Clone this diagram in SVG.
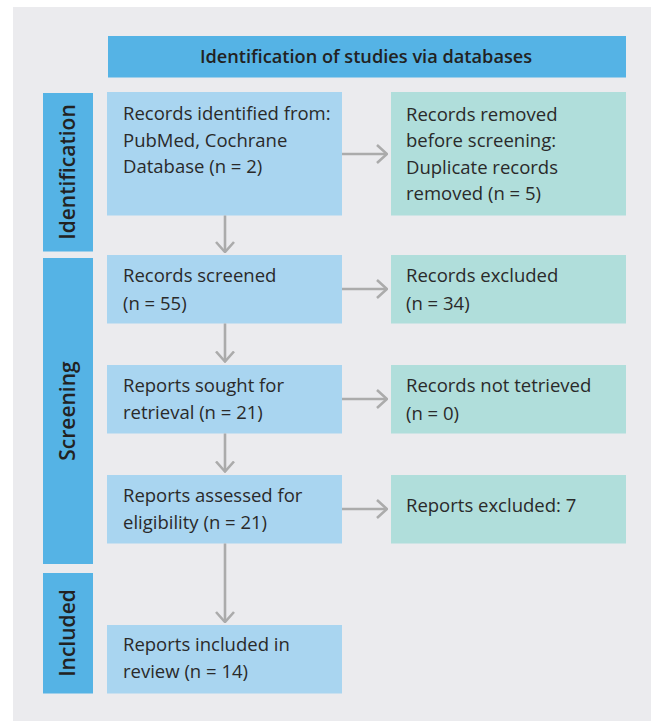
<svg xmlns="http://www.w3.org/2000/svg" width="651" height="721" viewBox="0 0 651 721">
<defs>
<marker id="ah" viewBox="0 0 12 20" refX="11" refY="10" markerWidth="12" markerHeight="20" markerUnits="userSpaceOnUse" orient="auto">
<path d="M1,1 L11,10 L1,19" fill="none" stroke="#ababab" stroke-width="2.6"/>
</marker>
<style>
.bar{fill:#55b3e5}
.blue{fill:#a9d5f0}
.green{fill:#b0dedb}
.t{font-family:"Open Sans","Liberation Sans",sans-serif;font-size:18.5px;fill:#2a2a2a}
.h{font-family:"Open Sans","Liberation Sans",sans-serif;font-size:18.2px;font-weight:600;fill:#222}
.v{font-family:"Open Sans","Liberation Sans",sans-serif;font-size:21px;font-weight:600;fill:#222}
.c{stroke:#ababab;stroke-width:2.6;fill:none}
</style>
</defs>
<rect x="13" y="7" width="638" height="714" fill="#ebebee"/>
<g id="header"><rect class="bar" x="108" y="36" width="518" height="41.5"/><text class="h" x="366" y="63" text-anchor="middle">Identification of studies via databases</text></g>
<g id="lbl-identification"><rect class="bar" x="43" y="93" width="50" height="158.5"/><text class="v" transform="translate(75,172) rotate(-90)" text-anchor="middle">Identification</text></g>
<g id="lbl-screening"><rect class="bar" x="43" y="258" width="50" height="306"/><text class="v" transform="translate(75,411) rotate(-90)" text-anchor="middle">Screening</text></g>
<g id="lbl-included"><rect class="bar" x="43" y="573" width="50" height="120.5"/><text class="v" transform="translate(75,633) rotate(-90)" text-anchor="middle">Included</text></g>
<g id="n1"><rect class="blue" x="107" y="92" width="235" height="123.5"/><text class="t" x="123" y="120">Records identified from:</text><text class="t" x="123" y="146.5">PubMed, Cochrane</text><text class="t" x="123" y="173">Database (n = 2)</text></g>
<g id="n2"><rect class="green" x="391" y="92" width="235" height="123.5"/><text class="t" x="406" y="120.5">Records removed</text><text class="t" x="406" y="147">before screening:</text><text class="t" x="406" y="173.5">Duplicate records</text><text class="t" x="406" y="200">removed (n = 5)</text></g>
<g id="n3"><rect class="blue" x="107" y="255" width="235" height="68.5"/><text class="t" x="123" y="282">Records screened</text><text class="t" x="123" y="309.5">(n = 55)</text></g>
<g id="n4"><rect class="green" x="391" y="255" width="235" height="68.5"/><text class="t" x="406" y="282">Records excluded</text><text class="t" x="406" y="309.5">(n = 34)</text></g>
<g id="n5"><rect class="blue" x="107" y="365" width="235" height="68.5"/><text class="t" x="123" y="392">Reports sought for</text><text class="t" x="123" y="418.5">retrieval (n = 21)</text></g>
<g id="n6"><rect class="green" x="391" y="365" width="235" height="68.5"/><text class="t" x="406" y="392">Records not tetrieved</text><text class="t" x="406" y="419.5">(n = 0)</text></g>
<g id="n7"><rect class="blue" x="107" y="475" width="235" height="68.5"/><text class="t" x="123" y="502">Reports assessed for</text><text class="t" x="123" y="528.5">eligibility (n = 21)</text></g>
<g id="n8"><rect class="green" x="391" y="475" width="235" height="68.5"/><text class="t" x="406" y="512">Reports excluded: 7</text></g>
<g id="n9"><rect class="blue" x="107" y="625" width="235" height="68.5"/><text class="t" x="123" y="651">Reports included in</text><text class="t" x="123" y="678">review (n = 14)</text></g>
<g id="connectors">
<line class="c" x1="225" y1="215.5" x2="225" y2="252" marker-end="url(#ah)"/>
<line class="c" x1="225" y1="323.5" x2="225" y2="361.5" marker-end="url(#ah)"/>
<line class="c" x1="225" y1="433.5" x2="225" y2="471.5" marker-end="url(#ah)"/>
<line class="c" x1="225" y1="543.5" x2="225" y2="622" marker-end="url(#ah)"/>
<line class="c" x1="342" y1="154" x2="387" y2="154" marker-end="url(#ah)"/>
<line class="c" x1="342" y1="289" x2="387" y2="289" marker-end="url(#ah)"/>
<line class="c" x1="342" y1="399" x2="387" y2="399" marker-end="url(#ah)"/>
<line class="c" x1="342" y1="509" x2="387" y2="509" marker-end="url(#ah)"/>
</g>
</svg>
